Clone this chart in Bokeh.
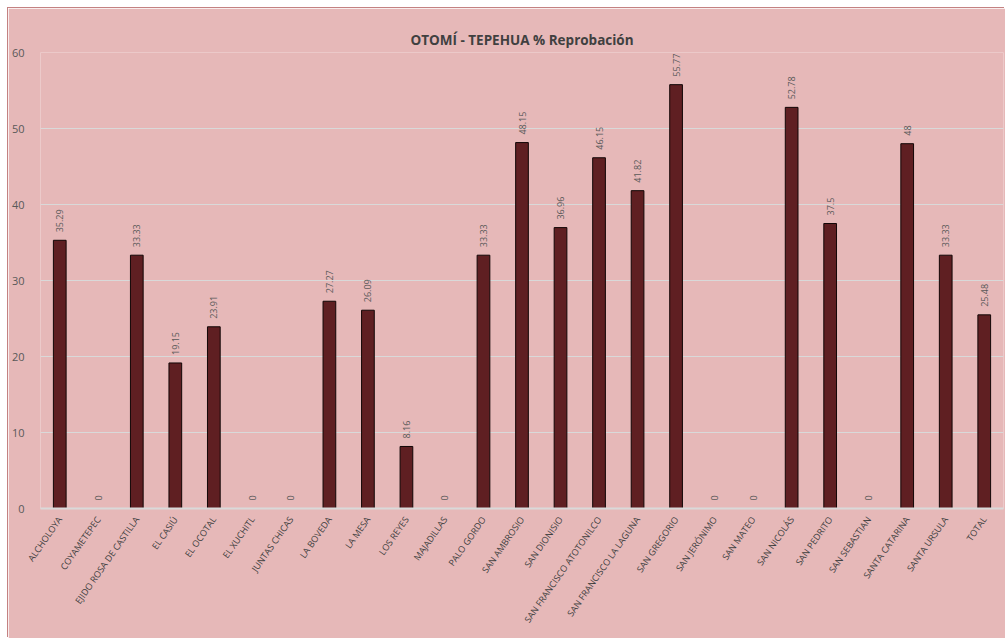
import math
from bokeh.plotting import figure
from bokeh.models import ColumnDataSource, FixedTicker
from bokeh.core.properties import value
from bokeh.embed import file_html
from bokeh.resources import INLINE

categories = [
    "ALCHOLOYA", "COYAMETEPEC", "EJIDO ROSA DE CASTILLA", "EL CASIÚ", "EL OCOTAL",
    "EL XUCHITL", "JUNTAS CHICAS", "LA BOVEDA", "LA MESA", "LOS REYES",
    "MAJADILLAS", "PALO GORDO", "SAN AMBROSIO", "SAN DIONISIO",
    "SAN FRANCISCO ATOTONILCO", "SAN FRANCISCO LA LAGUNA", "SAN GREGORIO",
    "SAN JERÓNIMO", "SAN MATEO", "SAN NICOLÁS", "SAN PEDRITO", "SAN SEBASTIAN",
    "SANTA CATARINA", "SANTA URSULA", "TOTAL",
]
values = [
    35.29, 0, 33.33, 19.15, 23.91,
    0, 0, 27.27, 26.09, 8.16,
    0, 33.33, 48.15, 36.96,
    46.15, 41.82, 55.77,
    0, 0, 52.78, 37.5, 0,
    48, 33.33, 25.48,
]
y_ticks = [0, 10, 20, 30, 40, 50, 60]
title_text = "OTOMÍ - TEPEHUA % Reprobación"

labels = [f"{v:g}" for v in values]
source = ColumnDataSource(dict(cat=categories, val=values, lab=labels))

BG = "#E6B8B8"
FONT = "Open Sans"

p = figure(
    x_range=categories, y_range=(0, 60),
    width=997, height=630,
    output_backend="svg", toolbar_location=None,
    min_border_left=31, min_border_right=2, min_border_top=44, min_border_bottom=130,
    background_fill_color=BG, border_fill_color=BG,
    outline_line_color=None,
)
p.styles = {"box-shadow": "-1px -1px 0 0 #C48282", "margin-left": "8px", "margin-top": "8px"}

p.title.text = title_text
p.title.align = "center"
p.title.text_font = FONT
p.title.text_font_style = "bold"
p.title.text_font_size = "13.5px"
p.title.text_color = "#404040"
p.title.offset = -9
p.title.standoff = 8

p.vbar(x="cat", top="val", width=0.33, source=source,
       fill_color="#5F1F22", line_color="#120606", line_width=1)

p.text(x="cat", y="val", text="lab", source=source, angle=math.pi / 2,
       text_align="left", text_baseline="middle", y_offset=-8,
       text_font=value(FONT), text_font_size="9px", text_color="#595959")

p.xgrid.grid_line_color = None
p.ygrid.grid_line_color = "#D9D9D9"
p.ygrid.grid_line_width = 1
p.yaxis.ticker = FixedTicker(ticks=y_ticks)

p.yaxis.axis_line_color = None
p.yaxis.major_tick_line_color = None
p.yaxis.minor_tick_line_color = None
p.yaxis.major_label_text_font = FONT
p.yaxis.major_label_text_font_size = "11px"
p.yaxis.major_label_text_color = "#595959"
p.yaxis.major_label_standoff = 10

p.xaxis.axis_line_color = "#D9D9D9"
p.xaxis.axis_line_width = 2
p.xaxis.major_tick_line_color = None
p.xaxis.major_tick_out = 0
p.xaxis.major_label_orientation = 0.96
p.xaxis.major_label_text_font = FONT
p.xaxis.major_label_text_font_size = "9px"
p.xaxis.major_label_text_color = "#404040"
p.xaxis.major_label_standoff = 9

open("out.html", "w").write(file_html(p, INLINE))
